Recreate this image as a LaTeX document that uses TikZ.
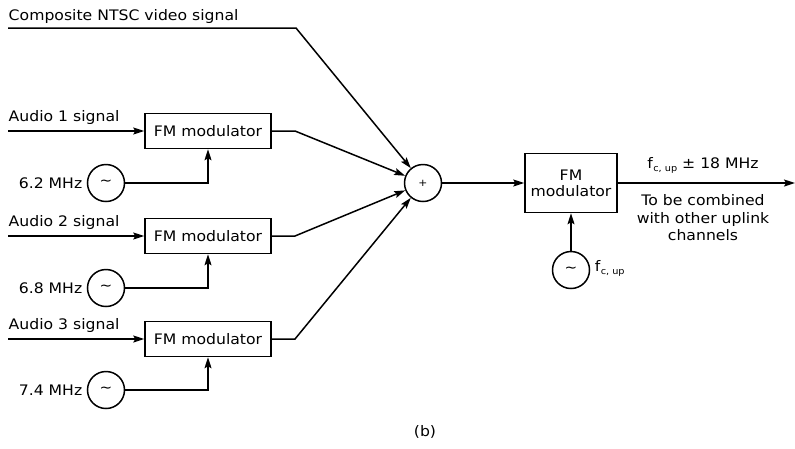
\documentclass[tikz,border=0pt]{standalone}
\usepackage{fontspec}
\setmainfont[FakeStretch=1.08]{DejaVu Sans}
\usetikzlibrary{arrows.meta}
\begin{document}
\begin{tikzpicture}[x=1pt,y=-1pt, line width=1.5pt,
  txt/.style={font=\fontsize{14.5}{16}\selectfont, inner sep=0pt},
  box/.style={draw, rectangle, inner sep=0pt, font=\fontsize{14.5}{16}\selectfont, align=center},
  modbox/.style={box, minimum width=126pt, minimum height=35pt},
  osc/.style={draw, circle, minimum size=37pt, inner sep=0pt, font=\fontsize{14}{16}\selectfont},
  arr/.style={-{Stealth[length=11pt,width=7pt,inset=2pt]}}
]
\useasboundingbox (0,0) rectangle (795,448);

% composite video
\node[txt, anchor=base west] (tcomp) at (8,20) {Composite NTSC video signal};
\coordinate (c0) at (8,28);
\coordinate (c1) at (296,28);

% summing junction
\node[osc, font=\fontsize{10}{10}\selectfont] (sum) at (423,183) {+};

% modulators
\node[modbox] (m1) at (208,131) {FM modulator};
\node[modbox] (m2) at (208,236) {FM modulator};
\node[modbox] (m3) at (208,339) {FM modulator};

% audio inputs
\node[txt, anchor=base west] (ta1) at (8,121) {Audio 1 signal};
\node[txt, anchor=base west] (ta2) at (8,226) {Audio 2 signal};
\node[txt, anchor=base west] (ta3) at (8,329) {Audio 3 signal};
\coordinate (a1) at (8,131);
\coordinate (a2) at (8,236);
\coordinate (a3) at (8,339);

% subcarrier oscillators
\node[osc] (o1) at (106,183) {∼};
\node[osc] (o2) at (106,288) {∼};
\node[osc] (o3) at (106,390) {∼};
\node[txt, anchor=east] (f1) at (83,183) {6.2 MHz};
\node[txt, anchor=east] (f2) at (83,288) {6.8 MHz};
\node[txt, anchor=east] (f3) at (83,390) {7.4 MHz};

% bends
\coordinate (k1) at (295,131);
\coordinate (k2) at (295,236);
\coordinate (k3) at (295,339);

% main FM modulator
\node[box, minimum width=92pt, minimum height=59pt] (M) at (571,183) {FM\\modulator};
\node[osc] (o4) at (571,270) {∼};
\node[txt, anchor=base west] (fcu) at (594,271) {f\kern0.5pt\raisebox{-3.5pt}{\fontsize{9}{9}\selectfont c, up}};
\coordinate (out) at (795,183);

\node[txt, anchor=base] (lab1) at (703,168) {f\kern0.5pt\raisebox{-3.5pt}{\fontsize{9}{9}\selectfont c, up} ± 18 MHz};
\node[txt, anchor=base] (lab2) at (703,205) {To be combined};
\node[txt, anchor=base] (lab3) at (703,223) {with other uplink};
\node[txt, anchor=base] (lab4) at (703,240) {channels};

\node[txt] (cap) at (425,432) {(b)};

% connectors
\draw[arr] (c0) -- (c1) -- (sum);
\draw[arr] (a1) -- (m1.west);
\draw[arr] (a2) -- (m2.west);
\draw[arr] (a3) -- (m3.west);
\draw[arr] (o1.east) -| (m1.south);
\draw[arr] (o2.east) -| (m2.south);
\draw[arr] (o3.east) -| (m3.south);
\draw[arr] (m1.east) -- (k1) -- (sum);
\draw[arr] (m2.east) -- (k2) -- (sum);
\draw[arr] (m3.east) -- (k3) -- (sum);
\draw[arr] (sum) -- (M.west);
\draw[arr] (o4) -- (M.south);
\draw[arr] (M.east) -- (out);
\end{tikzpicture}
\end{document}
